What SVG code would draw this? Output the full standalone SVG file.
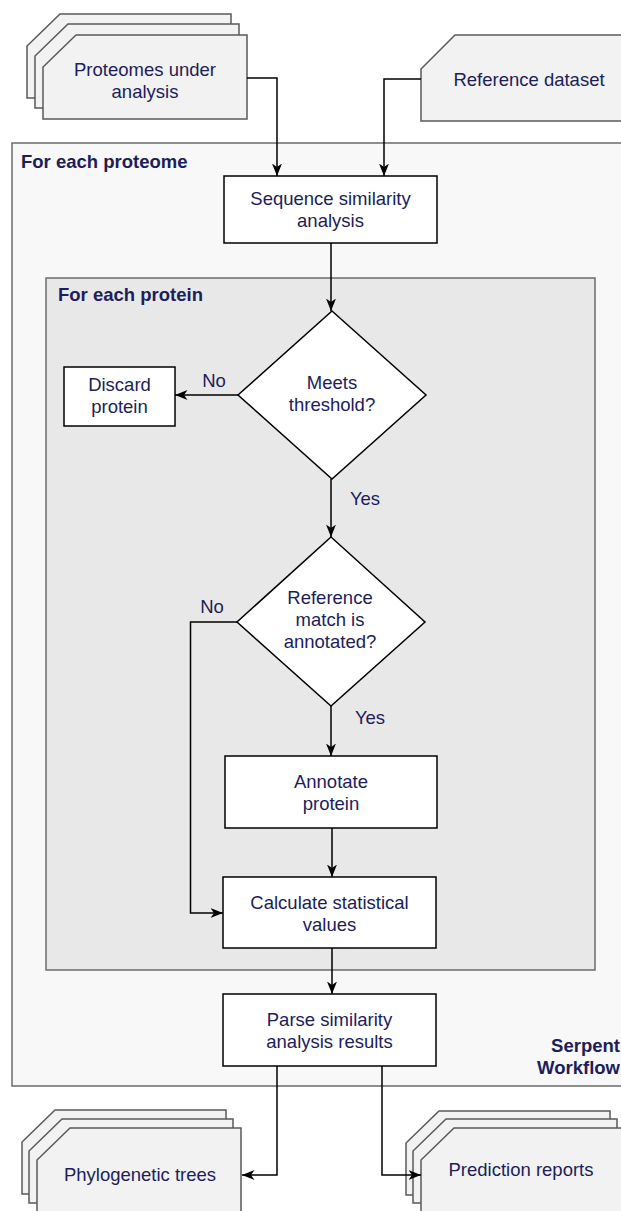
<svg xmlns="http://www.w3.org/2000/svg" width="621" height="1211" viewBox="0 0 621 1211">
<style>
.t{font-family:"Liberation Sans",Arial,sans-serif;font-size:18.5px;fill:#201d5a;text-anchor:middle}
.b{font-family:"Liberation Sans",Arial,sans-serif;font-size:18.5px;font-weight:bold;fill:#201d5a}
.doc{fill:#f2f2f2;stroke:#5a5a5a;stroke-width:1.5}
.box{fill:#ffffff;stroke:#000;stroke-width:1.5}
.cont{stroke:#6b6b6b;stroke-width:1.5}
.c{fill:none;stroke:#000;stroke-width:1.5}
</style>
<defs>
<marker id="arr" markerUnits="userSpaceOnUse" markerWidth="13" markerHeight="11" refX="12.5" refY="5.5" orient="auto"><path d="M0,0.5 L12.5,5.5 L0,10.5 L3.5,5.5 Z" fill="#000"/></marker>
<path id="docshape" d="M33,0 H204 V84 H0 V32 Z"/>
</defs>
<rect width="621" height="1211" fill="#ffffff"/>

<g id="outer-container">
<rect x="12" y="143" width="620" height="943" fill="#f8f8f8" class="cont"/>
<text class="b" x="21" y="168">For each proteome</text>
<text class="b" x="620" y="1052" text-anchor="end">Serpent</text>
<text class="b" x="620" y="1074" text-anchor="end">Workflow</text>
</g>

<g id="inner-container">
<rect x="46" y="278" width="549" height="692" fill="#e8e8e8" class="cont"/>
<text class="b" x="58" y="301">For each protein</text>
</g>

<g id="proteomes">
<use href="#docshape" class="doc" x="27" y="14"/>
<use href="#docshape" class="doc" x="35" y="24"/>
<use href="#docshape" class="doc" x="43" y="35"/>
<text class="t" x="145" y="76">Proteomes under</text>
<text class="t" x="145" y="98">analysis</text>
</g>

<g id="reference">
<path class="doc" d="M455,35 H630 V121 H421 V69 Z"/>
<text class="t" x="529" y="86">Reference dataset</text>
</g>

<g id="sequence">
<rect class="box" x="224" y="176" width="213" height="67"/>
<text class="t" x="330.5" y="205">Sequence similarity</text>
<text class="t" x="330.5" y="227">analysis</text>
</g>

<g id="meets">
<path class="box" d="M332,311 L426,395 L332,479 L238,395 Z"/>
<text class="t" x="332" y="388.5">Meets</text>
<text class="t" x="332" y="410.5">threshold?</text>
</g>

<g id="discard">
<rect class="box" x="64" y="367" width="111" height="59"/>
<text class="t" x="119.5" y="391">Discard</text>
<text class="t" x="119.5" y="413">protein</text>
</g>

<g id="annotated">
<path class="box" d="M331,537 L425,622 L331,706 L237,622 Z"/>
<text class="t" x="330" y="603.5">Reference</text>
<text class="t" x="330" y="625.5">match is</text>
<text class="t" x="330" y="647.5">annotated?</text>
</g>

<g id="annotate">
<rect class="box" x="225" y="756" width="212" height="72"/>
<text class="t" x="331" y="787.5">Annotate</text>
<text class="t" x="331" y="809.5">protein</text>
</g>

<g id="calculate">
<rect class="box" x="223" y="877" width="213" height="71"/>
<text class="t" x="329.5" y="909">Calculate statistical</text>
<text class="t" x="329.5" y="931">values</text>
</g>

<g id="parse">
<rect class="box" x="223" y="994" width="213" height="72"/>
<text class="t" x="329.5" y="1026">Parse similarity</text>
<text class="t" x="329.5" y="1048">analysis results</text>
</g>

<g id="phylo">
<use href="#docshape" class="doc" x="22" y="1110"/>
<use href="#docshape" class="doc" x="29" y="1119"/>
<use href="#docshape" class="doc" x="37" y="1128"/>
<text class="t" x="140" y="1181">Phylogenetic trees</text>
</g>

<g id="prediction">
<use href="#docshape" class="doc" x="406" y="1111"/>
<use href="#docshape" class="doc" x="413" y="1119"/>
<use href="#docshape" class="doc" x="421" y="1128"/>
<text class="t" x="521" y="1175.5">Prediction reports</text>
</g>

<g id="connectors">
<path class="c" d="M247,78 H277 V176" marker-end="url(#arr)"/>
<path class="c" d="M421,79 H384 V176" marker-end="url(#arr)"/>
<path class="c" d="M331,243 V311" marker-end="url(#arr)"/>
<path class="c" d="M238,395 H175" marker-end="url(#arr)"/>
<path class="c" d="M331,479 V537" marker-end="url(#arr)"/>
<path class="c" d="M237,622 H190.5 V913 H223" marker-end="url(#arr)"/>
<path class="c" d="M331,706 V756" marker-end="url(#arr)"/>
<path class="c" d="M332,828 V877" marker-end="url(#arr)"/>
<path class="c" d="M332,948 V994" marker-end="url(#arr)"/>
<path class="c" d="M277,1066 V1175 H242" marker-end="url(#arr)"/>
<path class="c" d="M382,1066 V1175 H421" marker-end="url(#arr)"/>
<text class="t" x="214" y="386.5">No</text>
<text class="t" x="365" y="504.5">Yes</text>
<text class="t" x="212" y="612.5">No</text>
<text class="t" x="370" y="723.5">Yes</text>
</g>
</svg>
